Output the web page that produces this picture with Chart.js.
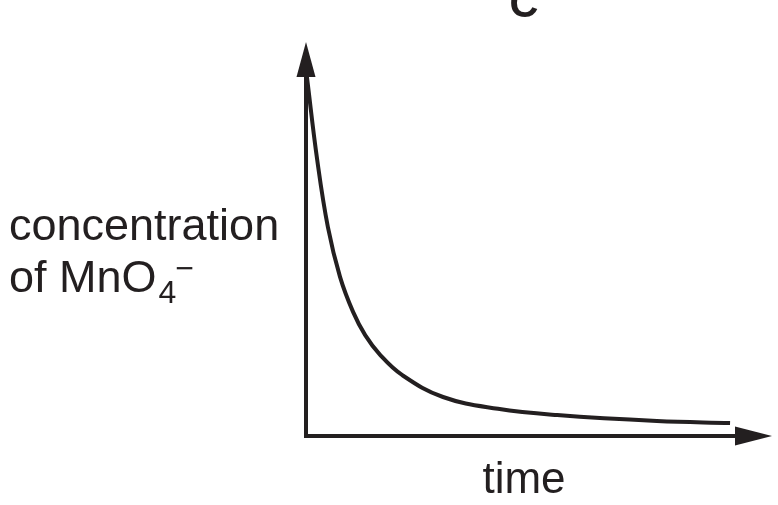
<!DOCTYPE html>
<html>
<head>
<meta charset="utf-8">
<script src="https://cdn.jsdelivr.net/npm/chart.js@4.4.1/dist/chart.umd.min.js"></script>
<style>
  html, body { margin: 0; padding: 0; background: #fff; }
  #wrap { width: 778px; height: 505px; position: relative; }
</style>
</head>
<body>
<div id="wrap"><canvas id="decayChart"></canvas></div>
<script>
// ─── Data (arbitrary units, 0–100 on both axes) ──────────────────────────────
const TIME_VALUES = [0.2, 2.4, 4.7, 7.3, 10.1, 12.7, 15.9, 20.6, 29.4, 41.2, 53.9, 75.3, 91.0];
const CONC_VALUES = [91.1, 70.1, 53.0, 40.4, 31.5, 25.6, 20.6, 15.5, 9.9, 6.9, 5.3, 3.8, 3.3];

const PANEL_LABEL = 'C';
const X_LABEL = 'time';
const Y_LABEL_LINE1 = 'concentration';
const Y_LABEL_LINE2 = 'of MnO';
const Y_LABEL_SUB = '4';
const Y_LABEL_SUP = '\u2212';

const INK = '#231f20';
const FONT = '"Liberation Sans", Arial, Helvetica, sans-serif';

// ─── Axes with arrowheads + labels, drawn after the chart ────────────────────
const sketchAxes = {
  id: 'sketchAxes',
  afterDraw(chart) {
    const { ctx, chartArea } = chart;
    const x0 = chart.scales.x.getPixelForValue(0);
    const y0 = chart.scales.y.getPixelForValue(0);
    const top = chartArea.top;
    const right = chartArea.right;

    ctx.save();
    ctx.strokeStyle = INK;
    ctx.fillStyle = INK;
    ctx.lineWidth = 4;
    ctx.lineCap = 'butt';

    // axis lines
    ctx.beginPath();
    ctx.moveTo(x0, y0 + 2);
    ctx.lineTo(x0, top + 30);
    ctx.moveTo(x0 - 2, y0);
    ctx.lineTo(right - 32, y0);
    ctx.stroke();

    // y arrowhead
    ctx.beginPath();
    ctx.moveTo(x0, top);
    ctx.lineTo(x0 - 9.5, top + 35);
    ctx.lineTo(x0 + 9.5, top + 35);
    ctx.closePath();
    ctx.fill();

    // x arrowhead
    ctx.beginPath();
    ctx.moveTo(right, y0);
    ctx.lineTo(right - 37, y0 - 9.5);
    ctx.lineTo(right - 37, y0 + 9.5);
    ctx.closePath();
    ctx.fill();

    // labels
    ctx.textBaseline = 'alphabetic';
    ctx.textAlign = 'left';
    ctx.font = `45px ${FONT}`;
    ctx.fillText(Y_LABEL_LINE1, 9, 240);
    ctx.fillText(Y_LABEL_LINE2, 9, 292);
    const w2 = ctx.measureText(Y_LABEL_LINE2).width;
    ctx.font = `32px ${FONT}`;
    ctx.fillText(Y_LABEL_SUB, 9 + w2 + 2, 303);
    const w4 = ctx.measureText(Y_LABEL_SUB).width;
    ctx.fillText(Y_LABEL_SUP, 9 + w2 + 1 + w4, 279);

    ctx.textAlign = 'center';
    ctx.font = `44px ${FONT}`;
    ctx.fillText(X_LABEL, 524, 493);
    ctx.font = `bold 40px ${FONT}`;
    ctx.fillText(PANEL_LABEL, 524, 17);
    ctx.restore();
  }
};

new Chart(document.getElementById('decayChart'), {
  type: 'line',
  data: {
    datasets: [{
      data: TIME_VALUES.map((t, i) => ({ x: t, y: CONC_VALUES[i] })),
      borderColor: INK,
      borderWidth: 4,
      pointRadius: 0,
      fill: false,
      tension: 0.4,
      borderCapStyle: 'butt',
      borderJoinStyle: 'round'
    }]
  },
  options: {
    responsive: true,
    maintainAspectRatio: false,
    animation: false,
    layout: { padding: { left: 306, top: 42, right: 6, bottom: 69 } },
    plugins: { legend: { display: false }, tooltip: { enabled: false } },
    scales: {
      x: { type: 'linear', min: 0, max: 100, display: false },
      y: { type: 'linear', min: 0, max: 100, display: false }
    }
  },
  plugins: [sketchAxes]
});
</script>
</body>
</html>
